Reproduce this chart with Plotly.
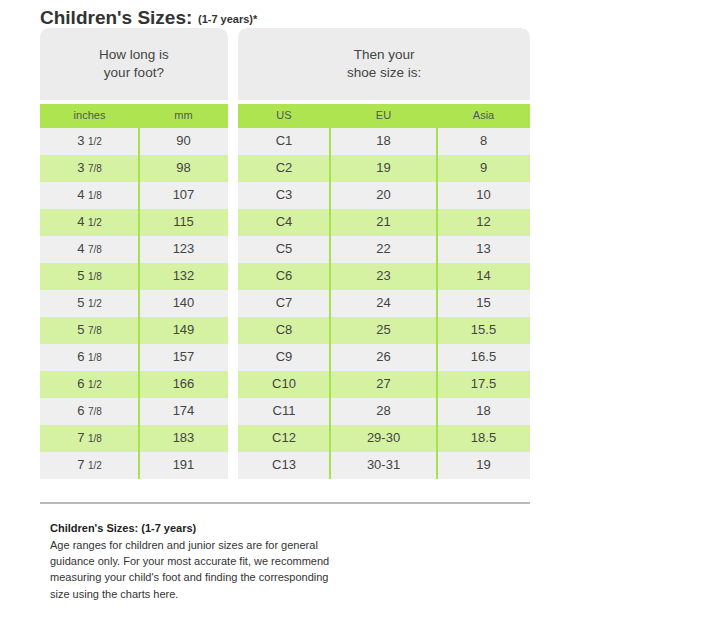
import plotly.graph_objects as go

# --- data ---
inches = ["3 1/2", "3 7/8", "4 1/8", "4 1/2", "4 7/8", "5 1/8", "5 1/2",
          "5 7/8", "6 1/8", "6 1/2", "6 7/8", "7 1/8", "7 1/2"]
mm = [90, 98, 107, 115, 123, 132, 140, 149, 157, 166, 174, 183, 191]
us = ["C1", "C2", "C3", "C4", "C5", "C6", "C7", "C8", "C9", "C10", "C11", "C12", "C13"]
eu = ["18", "19", "20", "21", "22", "23", "24", "25", "26", "27", "28", "29-30", "30-31"]
asia = ["8", "9", "10", "12", "13", "14", "15", "15.5", "16.5", "17.5", "18", "18.5", "19"]
col_labels = ["inches", "mm", "US", "EU", "Asia"]

title = "Children's Sizes:"
subtitle = "(1-7 years)*"
left_head = "How long is<br>your foot?"
right_head = "Then your<br>shoe size is:"
note_head = "Children's Sizes: (1-7 years)"
note_lines = [
    "Age ranges for children and junior sizes are for general",
    "guidance only. For your most accurate fit, we recommend",
    "measuring your child's foot and finding the corresponding",
    "size using the charts here.",
]

# --- layout geometry (window pixels) ---
W, H = 705, 617
PAGE_OFF = 8              # default body margin of the html page
L0, L1 = 40, 228          # left block
R0, R1 = 238, 530         # right block
HEAD_T, HEAD_B = 28, 100  # grey header panels
GH_T, GH_B = 104, 128     # green header row
ROW_H = 27
col_edges = [(L0, 139), (139, L1), (R0, 330), (330, 437), (437, R1)]
col_centers = [(a + b) / 2 for a, b in col_edges]

GREY_PANEL = "#ececec"
GREY_ROW = "#efefef"
GREEN_ROW = "#d5f2a3"
GREEN_HEAD = "#ade44f"
GREEN_LINE = "#a8e14a"
TXT = "#444444"
FONT = "Liberation Sans, Arial, sans-serif"

n = len(mm)
row_tops = [GH_B + i * ROW_H for i in range(n)]
row_mid = [t + ROW_H / 2 for t in row_tops]
table_bottom = GH_B + n * ROW_H

fig = go.Figure()
shapes = []


def rounded_top(x0, x1, y0, y1, r=11):
    return (f"M {x0},{y1} L {x0},{y0 + r} Q {x0},{y0} {x0 + r},{y0} "
            f"L {x1 - r},{y0} Q {x1},{y0} {x1},{y0 + r} L {x1},{y1} Z")


for x0, x1 in [(L0, L1), (R0, R1)]:
    shapes.append(dict(type="path", path=rounded_top(x0, x1, HEAD_T, HEAD_B),
                       fillcolor=GREY_PANEL, line_width=0, layer="below"))
    shapes.append(dict(type="rect", x0=x0, x1=x1, y0=GH_T, y1=GH_B,
                       fillcolor=GREEN_HEAD, line_width=0, layer="below"))
    for i, t in enumerate(row_tops):
        shapes.append(dict(type="rect", x0=x0, x1=x1, y0=t, y1=t + ROW_H,
                           fillcolor=GREY_ROW if i % 2 == 0 else GREEN_ROW,
                           line_width=0, layer="below"))

# vertical green column separators
for xs in [139, 330, 437]:
    shapes.append(dict(type="line", x0=xs, x1=xs, y0=GH_B, y1=table_bottom,
                       line=dict(color=GREEN_LINE, width=2)))

# grey rule under the table
shapes.append(dict(type="line", x0=L0, x1=R1, y0=503, y1=503,
                   line=dict(color="#a0a0a0", width=1.5)))


def fmt_inch(s):
    whole, frac = s.split(" ")
    return f"{whole} <span style='font-size:10px'>{frac}</span>"


columns = [[fmt_inch(s) for s in inches], [str(v) for v in mm], us, eu, asia]
for cx, vals in zip(col_centers, columns):
    fig.add_trace(go.Scatter(x=[cx] * n, y=row_mid, text=vals, mode="text",
                             textfont=dict(family=FONT, size=13, color=TXT),
                             hoverinfo="skip", showlegend=False))

# green header labels
fig.add_trace(go.Scatter(x=col_centers, y=[(GH_T + GH_B) / 2] * 5, text=col_labels,
                         mode="text", textfont=dict(family=FONT, size=11, color="#555555"),
                         hoverinfo="skip", showlegend=False))

ann = [
    dict(x=(L0 + L1) / 2, y=63, text=left_head),
    dict(x=(R0 + R1) / 2, y=63, text=right_head),
]
annotations = [dict(a, xref="x", yref="y", showarrow=False,
                    font=dict(family=FONT, size=13.5, color=TXT)) for a in ann]

annotations.append(dict(x=39, y=17, xref="x", yref="y", showarrow=False, xanchor="left",
                        borderpad=0, text=f"<b>{title}</b>",
                        font=dict(family=FONT, size=19, color="#333333")))
annotations.append(dict(x=197, y=19, xref="x", yref="y", showarrow=False, xanchor="left",
                        borderpad=0, text=f"<b>{subtitle}</b>",
                        font=dict(family=FONT, size=11, color="#333333")))

annotations.append(dict(x=49, y=528, xref="x", yref="y", showarrow=False, xanchor="left",
                        borderpad=0, text=f"<b>{note_head}</b>",
                        font=dict(family=FONT, size=11, color="#222222")))
for i, line in enumerate(note_lines):
    annotations.append(dict(x=49, y=545 + i * 16.2, xref="x", yref="y", showarrow=False,
                            xanchor="left", borderpad=0, text=line,
                            font=dict(family=FONT, size=11, color="#333333")))

fig.update_layout(
    width=W, height=H, margin=dict(l=0, r=0, t=0, b=0),
    paper_bgcolor="white", plot_bgcolor="white",
    xaxis=dict(range=[PAGE_OFF, W + PAGE_OFF], visible=False, fixedrange=True),
    yaxis=dict(range=[H + PAGE_OFF, PAGE_OFF], visible=False, fixedrange=True),
    shapes=shapes, annotations=annotations,
)

fig.write_html("out.html")
